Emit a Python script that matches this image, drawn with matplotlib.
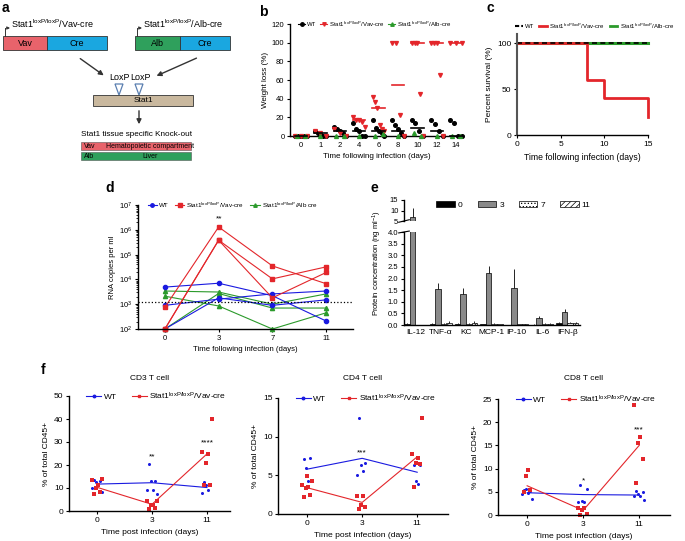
import numpy as np
import matplotlib
matplotlib.use("Agg")
import matplotlib.pyplot as plt
from matplotlib.patches import Rectangle, Polygon, Patch
from matplotlib.lines import Line2D
from matplotlib.ticker import LogLocator, NullFormatter

plt.rcParams['font.family'] = ['Liberation Sans', 'DejaVu Sans']
plt.rcParams['mathtext.default'] = 'regular'
plt.rcParams['hatch.linewidth'] = 0.5

# ---- data ----
# b: weight loss (%)
b_days = ['0', '1', '2', '4', '6', '8', '10', '12', '14']
b_wt = [[0, 0, 0, 0, 0], [5, 3, 2, 0, 0], [10, 8, 5, 3, 0], [14, 8, 5, 0, 0], [17, 9, 5, 3, 0],
        [17, 12, 7, 3, 0], [17, 14, 5, 0], [17, 13, 5, 0], [17, 14, 0, 0]]
b_vav = [[0, 0, 0], [5, 3, 0], [7, 3, 0], [20, 17, 17, 15, 10], [42, 36, 30, 12, 7, 5],
         [100, 100, 23, 0], [100, 100, 100, 45, 0], [100, 100, 100, 65, 0], [100, 100, 100]]
b_alb = [[0, 0], [0], [0, 0], [0], [0, 2], [0], [3, 0], [0], [0, 0]]
b_wt_med = [0, 3, 5, 5, 5, 5, 9, 5, 0]
b_vav_med = [np.nan, np.nan, np.nan, 17, 30, 55, 100, 100, 100]

# c: survival
c_time = [0, 8, 10, 15]
c_vav = [100, 60, 40, 20]
c_wt = [100, 100, 100, 100]
c_alb = [100, 100, 100, 100]

# d: RNA copies per ml, one list per animal
d_days = ['0', '3', '7', '11']
d_wt = [[4900, 7000, 2200, 210], [900, 1600, 2600, 3400], [100, 1800, 900, 1500]]
d_vav = [[750, 1.3e6, 35000, 6700], [100, 3.8e5, 10500, 32000], [100, 3.8e5, 1800, 19000]]
d_alb = [[3400, 3100, 1000, 2600], [2100, 850, 100, 450], [100, 2700, 700, 700]]
d_limit = 1200

# e: cytokines (ng/ml)
e_cyto = ['IL-12', 'TNF-α', 'KC', 'MCP-1', 'IP-10', 'IL-6', 'IFN-β']
e_d0 = [0.05, 0.05, 0.05, 0.03, 0.01, 0.02, 0.10]
e_d3 = [7.0, 1.55, 1.35, 2.25, 1.6, 0.30, 0.55]
e_d7 = [0.02, 0.05, 0.05, 0.05, 0.03, 0.05, 0.08]
e_d11 = [0.02, 0.10, 0.10, 0.03, 0.03, 0.05, 0.10]
e_d0_err = [0.02, 0.02, 0.02, 0.01, 0.0, 0.01, 0.05]
e_d3_err = [4.2, 0.25, 0.22, 0.28, 0.8, 0.10, 0.15]
e_d7_err = [0.0, 0.03, 0.03, 0.02, 0.01, 0.02, 0.03]
e_d11_err = [0.0, 0.08, 0.08, 0.01, 0.01, 0.02, 0.04]

# f: T cells, % of CD45+
f_days = ['0', '3', '11']
cd3_wt = [[13.4, 13.0, 12.6, 11.7, 10.2, 8.3], [20.4, 13.1, 13.0, 9.3, 9.3, 7.2], [12.4, 11.7, 11.5, 9.0, 7.9]]
cd3_vav = [[14.0, 13.4, 11.1, 10.2, 8.3, 7.3], [4.4, 4.4, 2.8, 2.5, 1.3, 1.0], [40, 25.8, 24.8, 21, 11.5, 11.5]]
cd3_wt_mean = [11.7, 12.3, 10.2]
cd3_vav_mean = [10.3, 2.9, 24.8]
cd3_sig = [(1, '**', 23.5), (2, '****', 29.5)]

cd4_wt = [[7.1, 7.3, 5.9, 4.3, 3.9], [12.4, 6.6, 6.4, 5.5, 5.1], [6.4, 6.4, 4.3, 3.9]]
cd4_vav = [[4.9, 4.3, 3.8, 3.5, 3.4, 2.5, 2.2], [2.3, 2.3, 1.1, 0.9, 0.7], [12.4, 7.8, 7.3, 6.6, 6.5, 3.5]]
cd4_wt_mean = [5.8, 7.2, 5.4]
cd4_vav_mean = [3.4, 1.5, 7.4]
cd4_sig = [(1, '***', 7.9)]

cd8_wt = [[5.3, 5.2, 5.7, 4.7, 4.6, 3.4], [6.4, 5.5, 3.0, 2.9, 2.8], [5.2, 4.9, 4.6, 4.2, 4.0, 3.2]]
cd8_vav = [[9.6, 8.4, 5.3, 4.9], [1.6, 1.5, 1.0, 0.3, 0.1], [23.6, 16.9, 15.6, 12.1, 7.0]]
cd8_wt_mean = [4.8, 4.4, 4.3]
cd8_vav_mean = [6.3, 1.0, 15.0]
cd8_sig = [(1, '*', 7.4), (2, '***', 18.4)]

VAV = r'Stat1$^{loxP/loxP}$/Vav-cre'
ALB = r'Stat1$^{loxP/loxP}$/Alb-cre'
RED = '#e3262b'
BLUE = '#1a1ae0'
GREEN = '#2b9a2b'

W, H = 685, 541
fig = plt.figure(figsize=(W / 100, H / 100), dpi=100)


def px_axes(l, t, r, b):
    return fig.add_axes([l / W, 1 - b / H, (r - l) / W, (b - t) / H])


def style(ax, fs=5.5):
    for s in ['top', 'right']:
        ax.spines[s].set_visible(False)
    for s in ['left', 'bottom']:
        ax.spines[s].set_linewidth(1.0)
    ax.tick_params(direction='out', length=2.5, width=0.8, labelsize=fs, pad=1.5)


def jitter(n, spread):
    if n == 1:
        return np.zeros(1)
    return np.linspace(-spread, spread, n)


# panel labels
for lab, x, y in [('a', 5, 8), ('b', 263, 12), ('c', 490, 8), ('d', 110, 188), ('e', 374, 188), ('f', 43, 370)]:
    fig.text(x / W, 1 - y / H, lab, fontsize=10, fontweight='bold', va='center', ha='center')

# ---- a: schematic ----
axa = fig.add_axes([0, 1 - 175 / H, 235 / W, 175 / H])
axa.set_xlim(0, 235)
axa.set_ylim(175, 0)
axa.axis('off')
pink, cyan, grn, tan = '#e8636b', '#1aa7e0', '#2fa05c', '#c9b89e'
for (x, w, c, t) in [(3, 44, pink, 'Vav'), (47, 60, cyan, 'Cre'), (135, 45, grn, 'Alb'), (180, 50, cyan, 'Cre')]:
    axa.add_patch(Rectangle((x, 36), w, 14, fc=c, ec='#333333', lw=0.6))
    axa.text(x + w / 2, 43, t, ha='center', va='center', fontsize=6.5)
for x0, lab in [(5, VAV), (137, ALB)]:
    axa.plot([x0, x0], [36, 28], color='#333333', lw=0.7)
    axa.annotate('', xy=(x0 + 5, 28), xytext=(x0, 28),
                 arrowprops=dict(arrowstyle='-|>', lw=0.7, color='#333333', mutation_scale=4))
    axa.text(x0 + 6, 24, lab, fontsize=6.5, va='center')
axa.annotate('', xy=(106, 77), xytext=(78, 57), arrowprops=dict(arrowstyle='-|>', lw=1.0, color='#333333', mutation_scale=7))
axa.annotate('', xy=(154, 77), xytext=(199, 57), arrowprops=dict(arrowstyle='-|>', lw=1.0, color='#333333', mutation_scale=7))
axa.text(119, 77, 'LoxP', ha='center', va='center', fontsize=6.5)
axa.text(140, 77, 'LoxP', ha='center', va='center', fontsize=6.5)
for xc in [119, 139]:
    axa.add_patch(Polygon([(xc - 4, 84), (xc + 4, 84), (xc, 95)], closed=True, fc='white', ec='#5a7fb0', lw=0.9))
axa.add_patch(Rectangle((93, 95), 100, 11, fc=tan, ec='#333333', lw=0.6))
axa.text(143, 100.5, 'Stat1', ha='center', va='center', fontsize=6)
axa.annotate('', xy=(139, 127), xytext=(139, 108), arrowprops=dict(arrowstyle='-|>', lw=1.0, color='#333333', mutation_scale=7))
axa.text(81, 135, 'Stat1 tissue specific Knock-out', fontsize=5.9, va='center')
axa.add_patch(Rectangle((81, 142), 110, 8, fc=pink, ec='#555555', lw=0.4))
axa.text(84, 146, 'Vav', fontsize=5, va='center')
axa.text(150, 146, 'Hematopoietic compartment', fontsize=5, va='center', ha='center')
axa.add_patch(Rectangle((81, 152), 110, 8, fc=grn, ec='#555555', lw=0.4))
axa.text(84, 156, 'Alb', fontsize=5, va='center')
axa.text(150, 156, 'Liver', fontsize=5, va='center', ha='center')

# ---- b: weight loss ----
axb = px_axes(290, 24, 463, 136)
style(axb)
for i in range(len(b_days)):
    axb.plot(i + jitter(len(b_wt[i]), 0.3), b_wt[i], 'o', color='black', ms=2.6, clip_on=False, zorder=3)
    axb.plot(i + jitter(len(b_vav[i]), 0.3), b_vav[i], 'v', color=RED, ms=2.8, clip_on=False, zorder=3)
    axb.plot(i + jitter(len(b_alb[i]), 0.2), b_alb[i], '^', color=GREEN, ms=2.8, clip_on=False, zorder=3)
    axb.plot([i - 0.32, i + 0.32], [b_wt_med[i]] * 2, color='black', lw=1.2, zorder=4, clip_on=False)
    axb.plot([i - 0.32, i + 0.32], [b_vav_med[i]] * 2, color=RED, lw=1.2, zorder=4, clip_on=False)
axb.set_xlim(-0.57, 8.35)
axb.set_ylim(0, 120)
axb.set_yticks(range(0, 121, 20))
axb.set_xticks(range(len(b_days)))
axb.set_xticklabels(b_days)
axb.tick_params(axis='x', length=0, pad=4)
axb.set_ylabel('Weight loss (%)', fontsize=5.8, labelpad=2)
axb.set_xlabel('Time following infection (days)', fontsize=5.8, labelpad=3)
hb = [Line2D([], [], color='black', marker='o', ms=2.5, lw=0.8),
      Line2D([], [], color=RED, marker='v', ms=2.5, lw=0.8),
      Line2D([], [], color=GREEN, marker='^', ms=2.5, lw=0.8)]
axb.legend(hb, ['WT', VAV, ALB], loc='center left', bbox_to_anchor=(0.03, 1.0), ncol=3, fontsize=4.3,
           frameon=False, handlelength=1.2, handletextpad=0.3, columnspacing=0.6, borderpad=0)

# ---- c: survival ----
axc = px_axes(517, 34, 648, 135)
style(axc, 6)
axc.spines['left'].set_color('#555555')
axc.spines['left'].set_linewidth(1.5)
axc.plot(c_time, c_alb, drawstyle='steps-post', color=GREEN, lw=2.2, clip_on=False)
axc.plot(c_time, c_vav, drawstyle='steps-post', color=RED, lw=2.0, clip_on=False)
axc.plot(c_time, c_wt, drawstyle='steps-post', color='black', lw=1.2, ls=(0, (3, 2)), clip_on=False)
axc.set_xlim(0, 15)
axc.set_ylim(0, 110)
axc.set_xticks([0, 5, 10, 15])
axc.set_yticks([0, 50, 100])
axc.set_ylabel('Percent survival (%)', fontsize=6, labelpad=3)
axc.set_xlabel('Time following infection (days)', fontsize=6.2, labelpad=4)
hc = [Line2D([], [], color='black', lw=1.5, ls=(0, (2, 1))),
      Line2D([], [], color=RED, lw=2), Line2D([], [], color=GREEN, lw=2)]
axc.legend(hc, ['WT', VAV, ALB], loc='center left', bbox_to_anchor=(-0.04, 1.08), ncol=3, fontsize=4.3,
           frameon=False, handlelength=1.3, handletextpad=0.4, columnspacing=0.8, borderpad=0)

# ---- d: RNA copies ----
axd = px_axes(138, 205, 353, 329)
style(axd)
xd = np.arange(len(d_days))
for s in d_alb:
    axd.plot(xd, s, '-^', color=GREEN, lw=0.8, ms=3, clip_on=False)
for s in d_wt:
    axd.plot(xd, s, '-o', color=BLUE, lw=0.8, ms=3, clip_on=False)
for s in d_vav:
    axd.plot(xd, s, '-s', color=RED, lw=0.8, ms=3, clip_on=False)
axd.axhline(d_limit, color='black', ls=':', lw=0.9)
axd.set_yscale('log')
axd.set_ylim(1e2, 1e7)
axd.set_xlim(-0.5, 3.5)
axd.yaxis.set_minor_locator(LogLocator(base=10, subs=np.arange(2, 10)))
axd.yaxis.set_minor_formatter(NullFormatter())
axd.tick_params(axis='y', which='minor', length=1.5, width=0.6)
axd.set_xticks(xd)
axd.set_xticklabels(d_days)
axd.text(1, 1.9e6, '**', ha='center', va='bottom', fontsize=6)
axd.set_ylabel('RNA copies per ml', fontsize=5.5, labelpad=2)
axd.set_xlabel('Time following infection (days)', fontsize=5.6, labelpad=3)
hd = [Line2D([], [], color=BLUE, marker='o', ms=2.5, lw=0.8),
      Line2D([], [], color=RED, marker='s', ms=2.5, lw=0.8),
      Line2D([], [], color=GREEN, marker='^', ms=2.5, lw=0.8)]
axd.legend(hd, ['WT', VAV, r'Stat1$^{loxP/loxP}$/Alb cre'], loc='center left', bbox_to_anchor=(0.03, 1.0),
           ncol=3, fontsize=4.5, frameon=False, handlelength=1.5, handletextpad=0.3, columnspacing=1.0, borderpad=0)

# ---- e: cytokines, broken axis ----
axe_t = px_axes(404, 200, 580, 221)
axe = px_axes(404, 232, 580, 325)
xe = np.arange(len(e_cyto))
bw = 0.22
series = [(e_d0, e_d0_err, dict(fc='black', ec='black')),
          (e_d3, e_d3_err, dict(fc='#8a8a8a', ec='black')),
          (e_d7, e_d7_err, dict(fc='white', ec='black', hatch='.....')),
          (e_d11, e_d11_err, dict(fc='white', ec='black', hatch='//////'))]
for ax in (axe_t, axe):
    style(ax)
    for k, (vals, err, kw) in enumerate(series):
        ax.bar(xe + (k - 1.5) * bw, vals, width=bw, lw=0.5, **kw)
        ax.errorbar(xe + (k - 1.5) * bw, vals, yerr=[np.zeros(len(vals)), err], fmt='none',
                    ecolor='black', elinewidth=0.6, capsize=0)
    ax.set_xlim(-0.45, 6.5)
axe_t.set_ylim(5, 15)
axe_t.set_yticks([5, 10, 15])
axe_t.spines['bottom'].set_visible(False)
axe_t.set_xticks([])
axe.set_ylim(0, 4)
axe.set_yticks(np.arange(0, 4.01, 0.5))
axe.set_yticklabels(['%.1f' % v for v in np.arange(0, 4.01, 0.5)])
axe.set_xticks(xe)
axe.set_xticklabels(e_cyto)
axe.tick_params(axis='x', length=0, pad=3, labelsize=6)
axe_t.plot([-0.03, 0.03], [-0.06, 0.06], transform=axe_t.transAxes, color='black', lw=0.8, clip_on=False)
axe.plot([-0.03, 0.03], [0.99, 1.01], transform=axe.transAxes, color='black', lw=0.8, clip_on=False)
fig.text(377 / W, 1 - 263 / H, r'Protein concentration (ng ml$^{-1}$)', rotation=90, fontsize=5.5,
         ha='center', va='center')
he = [Patch(fc=kw['fc'], ec='black', hatch=kw.get('hatch'), lw=0.5) for _, _, kw in series]
fig.legend(he, ['0', '3', '7', '11'], loc='center left', bbox_to_anchor=(432 / W, 1 - 205 / H), ncol=4,
           fontsize=6, frameon=False, handlelength=2.2, handleheight=0.8, handletextpad=0.4,
           columnspacing=1.8, borderpad=0)

# ---- f: T cells ----
f_panels = [('CD3 T cell', (69, 396, 230, 511), cd3_wt, cd3_vav, cd3_wt_mean, cd3_vav_mean, cd3_sig, 50, 10, (-0.51, 2.42)),
            ('CD4 T cell', (278, 398, 448, 514), cd4_wt, cd4_vav, cd4_wt_mean, cd4_vav_mean, cd4_sig, 15, 5, (-0.53, 2.56)),
            ('CD8 T cell', (498, 399, 670, 515), cd8_wt, cd8_vav, cd8_wt_mean, cd8_vav_mean, cd8_sig, 25, 5, (-0.52, 2.55))]
pattern = np.array([-0.06, 0.06, -0.02, 0.02, -0.09, 0.09, 0.0])
for title, box, wt, vav, wtm, vavm, sig, ymax, step, xl in f_panels:
    ax = px_axes(*box)
    style(ax, 6)
    xf = np.arange(len(f_days))
    ax.plot(xf, wtm, color=BLUE, lw=0.8)
    ax.plot(xf, vavm, color=RED, lw=0.8)
    for i in xf:
        ax.plot(i + pattern[:len(wt[i])], wt[i], 'o', color=BLUE, ms=2.2, mew=0, clip_on=False)
        ax.plot(i + pattern[:len(vav[i])][::-1], vav[i], 's', color=RED, ms=2.3, mew=0, clip_on=False)
    for i, s, y in sig:
        ax.text(i, y, s, ha='center', va='center', fontsize=6)
    ax.set_ylim(0, ymax)
    ax.set_yticks(np.arange(0, ymax + 0.1, step))
    ax.set_xlim(*xl)
    ax.set_xticks(xf)
    ax.set_xticklabels(f_days)
    ax.set_ylabel('% of total CD45+', fontsize=6, labelpad=3)
    ax.set_xlabel('Time post infection (days)', fontsize=6.1, labelpad=4)
    fig.text((box[0] + box[2]) / 2 / W, 1 - 379 / H, title, ha='center', va='center', fontsize=6)
    hf = [Line2D([], [], color=BLUE, marker='o', ms=1.8, lw=0.8),
          Line2D([], [], color=RED, marker='s', ms=1.8, lw=0.8)]
    ax.legend(hf, ['WT', VAV], loc='center left', bbox_to_anchor=(0.08, 1.0), ncol=2, fontsize=6,
              frameon=False, handlelength=1.8, handletextpad=0.3, columnspacing=1.8, borderpad=0)

fig.savefig('out.png', dpi=100)
